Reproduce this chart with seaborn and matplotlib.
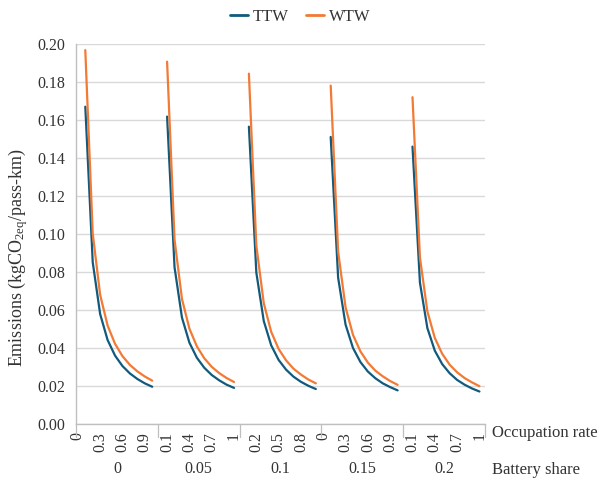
import numpy as np
import pandas as pd
import matplotlib
matplotlib.use("Agg")
import matplotlib.pyplot as plt
import seaborn as sns
from matplotlib.lines import Line2D

# ---------------- data ----------------
battery_share = ["0", "0.05", "0.1", "0.15", "0.2"]
# category slots of occupation rate inside each battery-share group
occupation_slots = [0, 0.05, 0.1, 0.15, 0.2, 0.25, 0.3, 0.35, 0.4, 0.45, 0.5,
                    0.55, 0.6, 0.65, 0.7, 0.75, 0.8, 0.85, 0.9, 0.95, 1.0, 1.05]
# occupation rates where values exist
occupation = [0.1, 0.2, 0.3, 0.4, 0.5, 0.6, 0.7, 0.8, 0.9, 1.0]

ttw_0 = [0.1670, 0.0851, 0.0578, 0.0442, 0.0360, 0.0305, 0.0266, 0.0237, 0.0214, 0.0196]
ttw_005 = [0.1618, 0.0825, 0.0560, 0.0428, 0.0349, 0.0296, 0.0258, 0.0230, 0.0207, 0.0190]
ttw_01 = [0.1565, 0.0797, 0.0542, 0.0414, 0.0337, 0.0286, 0.0249, 0.0222, 0.0201, 0.0184]
ttw_015 = [0.1511, 0.0770, 0.0523, 0.0400, 0.0326, 0.0276, 0.0241, 0.0214, 0.0194, 0.0177]
ttw_02 = [0.1460, 0.0744, 0.0505, 0.0386, 0.0315, 0.0267, 0.0232, 0.0207, 0.0187, 0.0171]

wtw_0 = [0.1968, 0.1002, 0.0679, 0.0518, 0.0422, 0.0357, 0.0311, 0.0277, 0.0250, 0.0228]
wtw_005 = [0.1907, 0.0971, 0.0658, 0.0502, 0.0409, 0.0346, 0.0301, 0.0268, 0.0242, 0.0221]
wtw_01 = [0.1844, 0.0939, 0.0636, 0.0485, 0.0395, 0.0335, 0.0291, 0.0260, 0.0234, 0.0214]
wtw_015 = [0.1781, 0.0907, 0.0614, 0.0469, 0.0382, 0.0323, 0.0281, 0.0251, 0.0226, 0.0206]
wtw_02 = [0.1720, 0.0876, 0.0593, 0.0453, 0.0369, 0.0312, 0.0272, 0.0242, 0.0219, 0.0199]

ttw = [ttw_0, ttw_005, ttw_01, ttw_015, ttw_02]
wtw = [wtw_0, wtw_005, wtw_01, wtw_015, wtw_02]

y_ticks = [0.00, 0.02, 0.04, 0.06, 0.08, 0.10, 0.12, 0.14, 0.16, 0.18, 0.20]
label_interval = 6

# ---------------- build table ----------------
n_slots = len(occupation_slots)
rows = []
for g, share in enumerate(battery_share):
    for series, vals in (("TTW", ttw[g]), ("WTW", wtw[g])):
        for o, v in zip(occupation, vals):
            slot = occupation_slots.index(o)
            rows.append({"pos": g * n_slots + slot + 0.5, "value": v,
                         "series": series, "group": share})
df = pd.DataFrame(rows)

# ---------------- style ----------------
sns.set_theme(style="white")
plt.rcParams["font.family"] = ["Liberation Serif", "DejaVu Serif"]
plt.rcParams["mathtext.fontset"] = "custom"
plt.rcParams["mathtext.rm"] = "Liberation Serif"
plt.rcParams["mathtext.it"] = "Liberation Serif:italic"

text_col = "#333333"
axis_col = "#bfbfbf"
grid_col = "#d9d9d9"
palette = {"TTW": "#115a7c", "WTW": "#f27a35"}

fig = plt.figure(figsize=(6.0, 4.79), dpi=100)
ax = fig.add_axes([76 / 600, 1 - 424 / 479, (485 - 76) / 600, (424 - 44) / 479])

sns.lineplot(data=df, x="pos", y="value", hue="series", units="group",
             estimator=None, palette=palette, linewidth=1.6, ax=ax,
             legend=False, sort=True)

total = n_slots * len(battery_share)
ax.set_xlim(0, total)
ax.set_ylim(0, 0.20)

# y axis
ax.set_yticks(y_ticks)
ax.set_yticklabels([f"{t:.2f}" for t in y_ticks])
ax.yaxis.grid(True, color=grid_col, linewidth=1.0)
ax.xaxis.grid(False)
ax.set_axisbelow(True)
ax.tick_params(axis="y", which="major", length=4, width=0.8, color=axis_col,
               labelsize=11.5, labelcolor=text_col, pad=4)

# x axis: labels every `label_interval` categories
label_pos = list(range(0, total, label_interval))
labels = []
for k in label_pos:
    v = occupation_slots[k % n_slots]
    labels.append(f"{v:g}")
ax.set_xticks([k + 0.5 for k in label_pos])
ax.set_xticklabels(labels, rotation=90)
ax.tick_params(axis="x", which="major", length=0, labelsize=11.5,
               labelcolor=text_col, pad=6)
ax.set_xticks(np.arange(0, total + 1, 1), minor=True)
ax.tick_params(axis="x", which="minor", length=3.5, width=0.6, color=axis_col)

# group separators
xt = ax.get_xaxis_transform()
for g in range(len(battery_share) + 1):
    ax.plot([g * n_slots, g * n_slots], [0, -0.034], transform=xt,
            color=axis_col, linewidth=0.9, clip_on=False)
for g, share in enumerate(battery_share):
    ax.text(g * n_slots + n_slots / 2, -45 / 380, share, transform=xt,
            ha="center", va="center", fontsize=11.5, color=text_col)

ax.set_xlabel("")
ax.set_ylabel("")
for s in ("top", "right"):
    ax.spines[s].set_visible(False)
for s in ("left", "bottom"):
    ax.spines[s].set_color(axis_col)
    ax.spines[s].set_linewidth(1.0)

fig.text(492 / 600, 1 - 433 / 479, "Occupation rate", ha="left", va="center",
         fontsize=12, color=text_col)
fig.text(492 / 600, 1 - 470 / 479, "Battery share", ha="left", va="center",
         fontsize=12, color=text_col)
fig.text(18 / 600, 1 - 258 / 479, r"Emissions (kgCO$_{\mathrm{2eq}}$/pass-km)",
         rotation=90, ha="center", va="center", fontsize=13, color=text_col)

# legend
handles = [Line2D([], [], color=palette["TTW"], lw=2.0),
           Line2D([], [], color=palette["WTW"], lw=2.0)]
fig.legend(handles, ["TTW", "WTW"], loc="center", ncol=2, frameon=False,
           bbox_to_anchor=(0.5, 1 - 17 / 479), fontsize=12, handlelength=1.1,
           handletextpad=0.3, columnspacing=1.0, labelcolor=text_col)

fig.savefig("out.png", dpi=100)
